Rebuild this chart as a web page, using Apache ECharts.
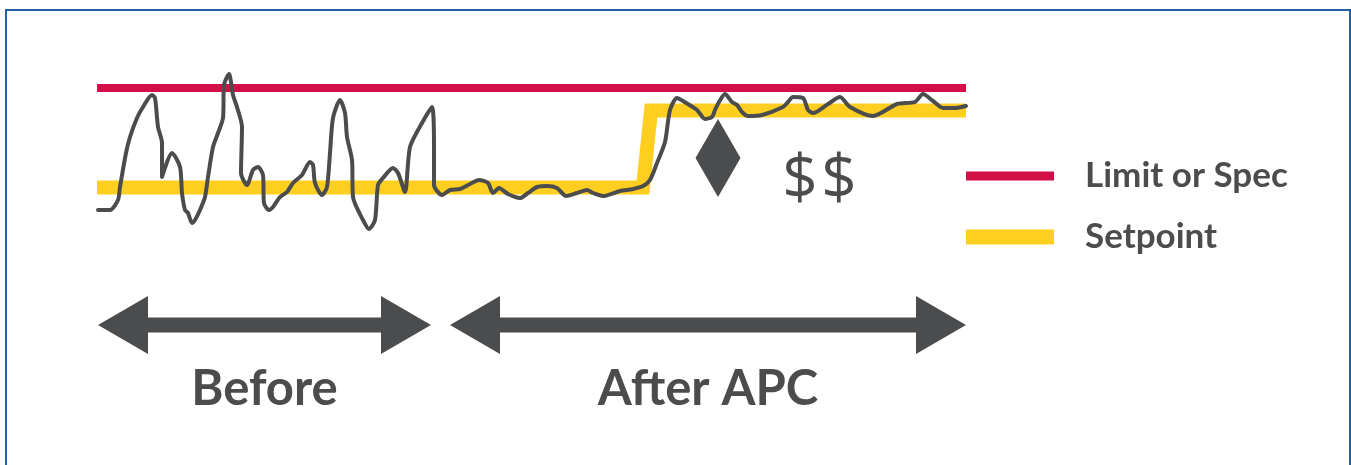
<!DOCTYPE html>
<html>
<head>
<meta charset="utf-8">
<script src="https://cdn.jsdelivr.net/npm/echarts@6/dist/echarts.min.js"></script>
<style>
html,body{margin:0;padding:0;background:#fff;}
#chart{width:1351px;height:465px;}
</style>
</head>
<body>
<div id="chart"></div>
<script>
// ---- Data (x: time units 0..869, y: process units 0..300) ----
const processX = [1,13,21,23,29,33,40,46,55,58,61,65,65,75,83,85,88,91,95,98,103,108,111,116,121,126,127,132,136,140,145,144,150,156,161,166,167,172,176,183,190,196,205,213,216,218,225,230,233,236,243,248,250,255,256,266,272,278,281,286,296,301,308,313,325,335,337,337,345,353,363,373,382,391,396,402,411,423,431,440,450,460,469,480,490,496,506,523,536,546,553,560,568,573,580,586,600,608,615,618,622,628,635,640,645,651,665,686,691,696,706,711,716,731,743,753,776,800,818,826,836,846,858,869];
const processY = [130,130,140,153,187,203,222,233,245,242,213,197,163,187,173,147,130,127,117,120,130,143,163,193,207,222,255,266,245,233,213,167,155,170,173,165,137,130,133,143,148,157,165,178,175,157,145,153,187,222,240,227,203,180,143,120,111,120,155,162,172,167,148,193,217,233,190,155,145,150,151,156,160,157,147,152,146,142,147,153,154,152,144,147,150,147,144,149,151,154,160,177,198,230,242,239,230,221,223,230,238,246,238,235,228,224,225,233,238,243,242,230,227,236,243,233,224,236,238,246,239,232,232,234];
const limitX = [0, 869];
const limitY = [252, 252];
const setpointX = [0, 546, 554, 869];
const setpointY = [152.5, 152.5, 229.5, 229.5];
const diamondPoint = [621, 182];
const dollarX = [703, 742];
const dollarY = 159;
const arrowStart = [1, 353];
const arrowEnd = [334, 869];
const arrowLevel = 15;
const arrowLabels = ['Before', 'After APC'];
const legendNames = ['Limit or Spec', 'Setpoint'];

const GRAY = '#4b4c4e';
const RED = '#d20f46';
const YELLOW = '#fecf21';

const zip = (xs, ys) => xs.map((x, i) => [x, ys[i]]);

const chart = echarts.init(document.getElementById('chart'), null, {renderer: 'canvas'});
chart.setOption({
  animation: false,
  backgroundColor: '#ffffff',
  grid: {left: 97, right: 385, top: 40, bottom: 125},
  xAxis: {type: 'value', min: 0, max: 869, show: false},
  yAxis: {type: 'value', min: 0, max: 300, show: false},
  legend: {
    data: [
      {name: legendNames[0], icon: 'path://M0,0H88V9H0Z'},
      {name: legendNames[1], icon: 'path://M0,0H88V15H0Z'}
    ],
    orient: 'vertical',
    left: 966,
    top: 156,
    padding: 0,
    itemWidth: 88,
    itemHeight: 15,
    itemGap: 21,
    selectedMode: false,
    itemStyle: {borderWidth: 0},
    textStyle: {
      fontFamily: 'Lato', fontWeight: 'bold', fontSize: 35, color: GRAY,
      lineHeight: 40, padding: [0, 0, 0, 26]
    }
  },
  graphic: [{
    type: 'rect', silent: true,
    shape: {x: 6, y: 10, width: 1344, height: 520},
    style: {fill: 'none', stroke: '#23609f', lineWidth: 2}
  }],
  series: [
    {
      name: legendNames[1], type: 'line', data: zip(setpointX, setpointY),
      symbol: 'none', silent: true, z: 1,
      itemStyle: {color: YELLOW},
      lineStyle: {color: YELLOW, width: 14, join: 'miter', cap: 'butt'}
    },
    {
      name: legendNames[0], type: 'line', data: zip(limitX, limitY),
      symbol: 'none', silent: true, z: 2,
      itemStyle: {color: RED},
      lineStyle: {color: RED, width: 8, cap: 'butt'}
    },
    {
      name: 'Process', type: 'line', data: zip(processX, processY),
      symbol: 'none', silent: true, z: 3, smooth: 0.25,
      itemStyle: {color: GRAY},
      lineStyle: {color: GRAY, width: 4, join: 'round', cap: 'round'}
    },
    {
      name: 'Diamond', type: 'scatter', data: [diamondPoint],
      symbol: 'diamond', symbolSize: [45, 78], silent: true, z: 4,
      itemStyle: {color: GRAY, opacity: 1}
    },
    {
      name: 'Dollars', type: 'custom', silent: true, z: 4,
      data: dollarX.map(x => [x, dollarY]),
      renderItem: function (params, api) {
        const p = api.coord([api.value(0), api.value(1)]);
        return {
          type: 'text',
          style: {
            text: '$', x: p[0], y: p[1], align: 'center', verticalAlign: 'middle',
            fontFamily: 'Open Sans', fontSize: 62, fontWeight: 'normal', fill: GRAY
          }
        };
      }
    },
    {
      name: 'Spans', type: 'custom', silent: true, z: 4, clip: false,
      data: arrowLabels.map((l, i) => [arrowStart[i], arrowEnd[i], arrowLevel]),
      renderItem: function (params, api) {
        const a = api.coord([api.value(0), api.value(2)]);
        const b = api.coord([api.value(1), api.value(2)]);
        const y = a[1], x0 = a[0], x1 = b[0];
        const head = 50, hh = 29, sh = 7.5;
        return {
          type: 'group',
          children: [
            {
              type: 'polygon',
              shape: {points: [
                [x0, y], [x0 + head, y - hh], [x0 + head, y - sh], [x1 - head, y - sh],
                [x1 - head, y - hh], [x1, y], [x1 - head, y + hh], [x1 - head, y + sh],
                [x0 + head, y + sh], [x0 + head, y + hh]
              ]},
              style: {fill: GRAY}
            },
            {
              type: 'text',
              style: {
                text: arrowLabels[params.dataIndex], x: (x0 + x1) / 2, y: y + 64,
                align: 'center', verticalAlign: 'middle',
                fontFamily: 'Lato', fontWeight: 'bold', fontSize: 49, fill: GRAY
              }
            }
          ]
        };
      }
    }
  ]
});
</script>
</body>
</html>
